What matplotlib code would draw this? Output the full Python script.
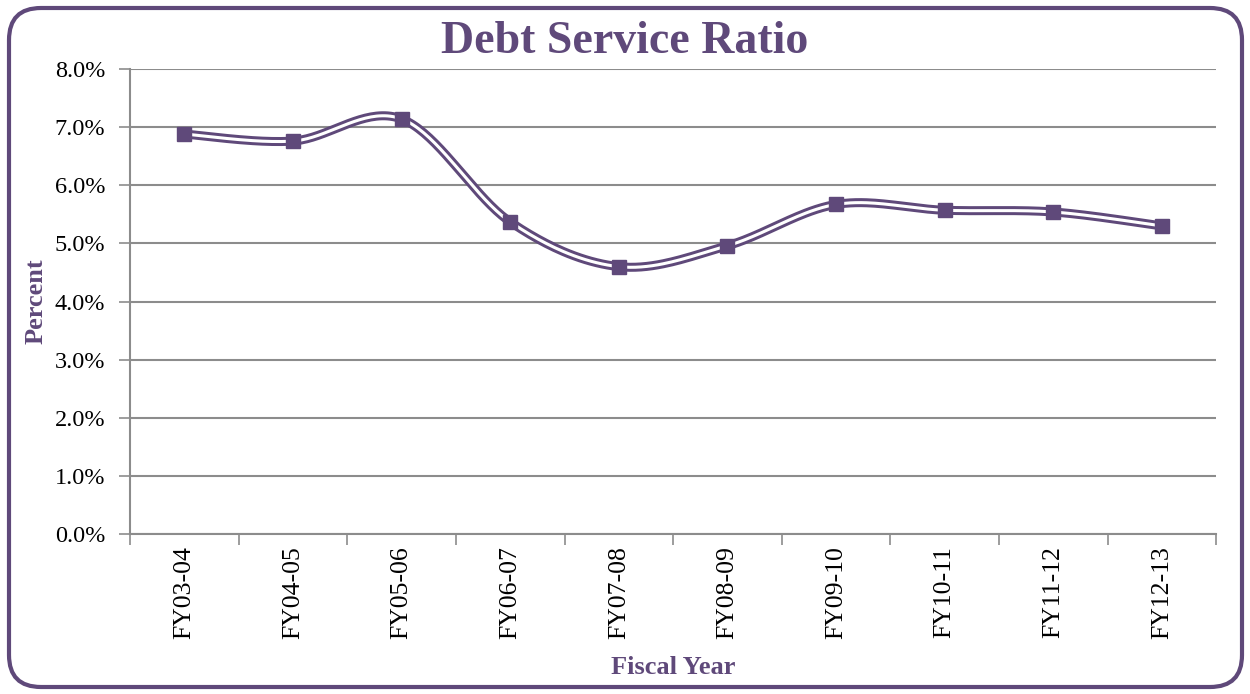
#!/usr/bin/env python
import numpy as np
import matplotlib as mpl
import matplotlib.pyplot as plt
from matplotlib.patches import FancyBboxPatch

years = ['FY03-04', 'FY04-05', 'FY05-06', 'FY06-07', 'FY07-08',
         'FY08-09', 'FY09-10', 'FY10-11', 'FY11-12', 'FY12-13']
ratio = [6.88, 6.76, 7.14, 5.37, 4.60, 4.96, 5.67, 5.57, 5.54, 5.30]

purple = '#5F497A'
grid_c = '#8C8C8C'

plt.rcParams['font.family'] = ['Liberation Serif', 'DejaVu Serif']


def smooth(x, y, n=40):
    # excel-like smoothed line: cubic bezier with catmull-rom control points
    x = np.asarray(x, float)
    y = np.asarray(y, float)
    px = np.concatenate([[x[0]], x, [x[-1]]])
    py = np.concatenate([[y[0]], y, [y[-1]]])
    t = np.linspace(0, 1, n)[:, None]
    xs, ys = [], []
    for i in range(1, len(px) - 2):
        p0 = np.array([px[i], py[i]])
        p3 = np.array([px[i + 1], py[i + 1]])
        p1 = p0 + (np.array([px[i + 1], py[i + 1]]) - np.array([px[i - 1], py[i - 1]])) / 6.0
        p2 = p3 - (np.array([px[i + 2], py[i + 2]]) - np.array([px[i], py[i]])) / 6.0
        b = ((1 - t) ** 3) * p0 + 3 * ((1 - t) ** 2) * t * p1 + 3 * (1 - t) * t ** 2 * p2 + t ** 3 * p3
        xs.append(b[:, 0])
        ys.append(b[:, 1])
    return np.concatenate(xs), np.concatenate(ys)


fig = plt.figure(figsize=(12.5, 6.94), dpi=100)
fig.subplots_adjust(left=0.104, right=0.973, bottom=0.2305, top=0.9006)

# rounded frame round the whole chart
frame = FancyBboxPatch((0.09, 0.07), 12.33, 6.79,
                       boxstyle='round,pad=0,rounding_size=0.32',
                       transform=fig.dpi_scale_trans, fill=False,
                       ec=purple, lw=3.0, zorder=10)
fig.patches.append(frame)

ax = fig.add_subplot(1, 1, 1)

xi = np.arange(len(years))
sx, sy = smooth(xi, ratio)
ax.plot(sx, sy, color=purple, lw=6.5, solid_capstyle='butt', zorder=3)
ax.plot(sx, sy, color='white', lw=2.2, solid_capstyle='butt', zorder=4)
ax.plot(xi, ratio, ls='none', marker='s', ms=10.5, color=purple, zorder=5)

ax.set_xlim(-0.5, len(years) - 0.5)
ax.set_ylim(0, 8)
ax.yaxis.set_major_locator(mpl.ticker.MultipleLocator(1.0))
ax.yaxis.set_major_formatter(mpl.ticker.FuncFormatter(lambda v, p: '%.1f%%' % v))
ax.grid(True, axis='y', color=grid_c, lw=1.5)
ax.set_axisbelow(True)

ax.set_xticks(np.arange(len(years) + 1) - 0.5)
ax.set_xticklabels([])
ax.set_xticks(xi, minor=True)
ax.set_xticklabels(years, minor=True, rotation=90)
ax.tick_params(axis='x', which='major', length=8, color=grid_c, width=1.2, direction='out')
ax.tick_params(axis='x', which='minor', length=0, pad=9, labelsize=18.5)
ax.tick_params(axis='y', length=8, color=grid_c, width=1.2, labelsize=17.5, pad=10)

for s in ['top', 'right']:
    ax.spines[s].set_visible(False)
for s in ['left', 'bottom']:
    ax.spines[s].set_color(grid_c)
    ax.spines[s].set_linewidth(1.5)

ax.set_xlabel('Fiscal Year', fontsize=19, fontweight='bold', color=purple, labelpad=12)
ax.set_ylabel('Percent', fontsize=19, fontweight='bold', color=purple, labelpad=5)
fig.text(0.5, 0.94, 'Debt Service Ratio', ha='center', va='center',
         fontsize=33, fontweight='bold', color=purple)

fig.savefig('out.png', dpi=100)
